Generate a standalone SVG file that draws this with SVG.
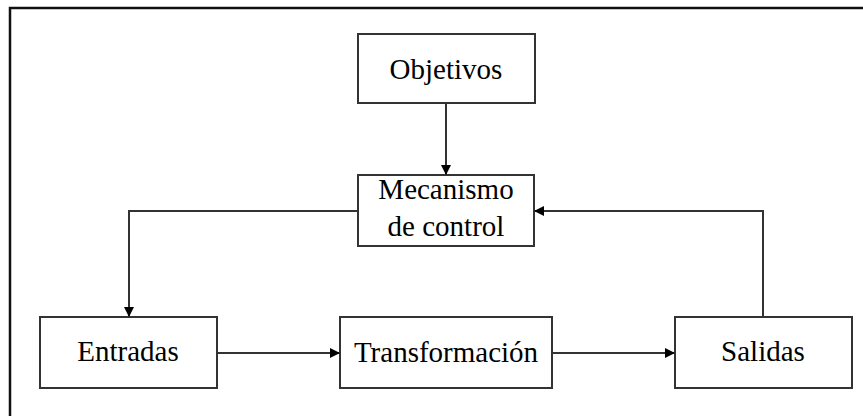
<svg xmlns="http://www.w3.org/2000/svg" width="863" height="416" viewBox="0 0 863 416">
<style>
.box{fill:#fff;stroke:#333;stroke-width:2}
.lbl{font-family:"Liberation Serif","Times New Roman",serif;font-size:29px;fill:#000;text-anchor:middle}
.con{fill:none;stroke:#333;stroke-width:2}
</style>
<defs>
<marker id="ah" viewBox="0 0 10 10" refX="10" refY="5" markerWidth="10" markerHeight="10" markerUnits="userSpaceOnUse" orient="auto">
<path d="M0,0 L10,5 L0,10 Z" fill="#000"/>
</marker>
</defs>
<rect width="863" height="416" fill="#fff"/>
<path d="M10,416 V8 H863" fill="none" stroke="#111" stroke-width="2.5"/>
<g id="objetivos">
<rect class="box" x="358" y="34" width="177" height="69"/>
<text class="lbl" x="446" y="79">Objetivos</text>
</g>
<g id="mecanismo">
<rect class="box" x="358" y="175" width="176" height="71"/>
<text class="lbl" x="446" y="199">Mecanismo</text>
<text class="lbl" x="446" y="236">de control</text>
</g>
<g id="entradas">
<rect class="box" x="40" y="317" width="177" height="71"/>
<text class="lbl" x="128" y="361">Entradas</text>
</g>
<g id="transformacion">
<rect class="box" x="340" y="317" width="212" height="71"/>
<text class="lbl" x="446" y="362">Transformación</text>
</g>
<g id="salidas">
<rect class="box" x="675" y="317" width="177" height="71"/>
<text class="lbl" x="763" y="361">Salidas</text>
</g>
<g id="connectors">
<path class="con" d="M446,103 V175" marker-end="url(#ah)"/>
<path class="con" d="M358,211 H129 V317" marker-end="url(#ah)"/>
<path class="con" d="M217,353 H340" marker-end="url(#ah)"/>
<path class="con" d="M552,353 H675" marker-end="url(#ah)"/>
<path class="con" d="M763,317 V211 H534" marker-end="url(#ah)"/>
</g>
</svg>
